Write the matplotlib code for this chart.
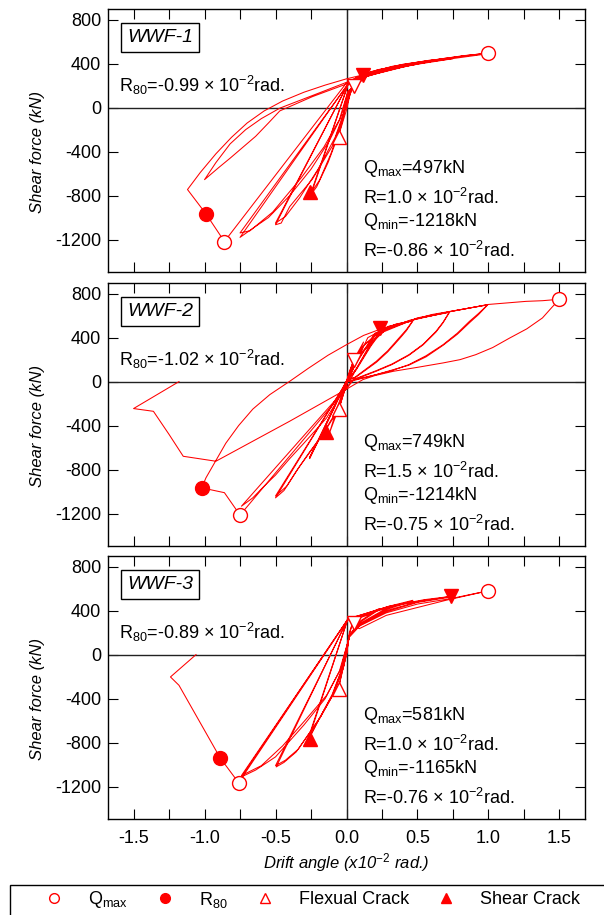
import matplotlib
matplotlib.use('Agg')
import matplotlib.pyplot as plt
from matplotlib.lines import Line2D
from matplotlib.patches import Rectangle
from matplotlib.ticker import MultipleLocator

plt.rcParams['font.family'] = ['Liberation Sans', 'DejaVu Sans']
plt.rcParams['mathtext.fontset'] = 'custom'
plt.rcParams['mathtext.rm'] = 'Liberation Sans'
plt.rcParams['mathtext.it'] = 'Liberation Sans:italic'
plt.rcParams['mathtext.bf'] = 'Liberation Sans:bold'
plt.rcParams['axes.unicode_minus'] = False

# hysteresis paths (drift angle x10^-2 rad, shear force kN)
wwf1_path = [
    (0.0, 0), (0.02, 110), (0.05, 190), (0.03, 160), (0.0, 60),
    (-0.03, -130), (-0.06, -265), (-0.04, -190), (0.0, -20),
    (0.03, 150), (0.08, 250), (0.115, 295), (0.09, 270), (0.04, 225), (0.01, 205),
    (-0.25, -790), (-0.21, -720), (-0.13, -500), (-0.06, -260), (-0.01, -20),
    (0.04, 180), (0.10, 270), (0.18, 310), (0.25, 335), (0.20, 320), (0.10, 285), (0.03, 235), (0.01, 210),
    (-0.25, -775), (-0.19, -660), (-0.11, -420), (-0.04, -160), (0.01, 120),
    (0.08, 250), (0.18, 305), (0.30, 350), (0.50, 400), (0.38, 385), (0.22, 340), (0.08, 280), (0.01, 215),
    (-0.50, -1065), (-0.46, -1050), (-0.40, -900), (-0.24, -650), (-0.10, -350), (-0.03, -110), (0.01, 130),
    (0.10, 265), (0.30, 345), (0.50, 395), (0.36, 375), (0.16, 320), (0.04, 250), (0.01, 212),
    (-0.50, -1050), (-0.43, -990), (-0.33, -820), (-0.20, -560), (-0.08, -270), (-0.02, -50), (0.02, 160),
    (0.14, 290), (0.45, 390), (0.75, 450), (0.58, 430), (0.32, 375), (0.12, 300), (0.01, 215),
    (-0.75, -1180), (-0.64, -1080), (-0.55, -1000), (-0.40, -800), (-0.25, -560), (-0.12, -300), (-0.04, -90), (0.01, 140),
    (0.14, 285), (0.45, 385), (0.75, 445), (0.52, 415), (0.22, 345), (0.06, 265), (0.01, 212),
    (-0.75, -1140), (-0.68, -1120), (-0.52, -950), (-0.32, -640), (-0.16, -360), (-0.05, -110), (0.01, 150),
    (0.15, 290), (0.47, 395), (0.82, 470), (1.0, 497), (0.94, 485), (0.70, 450), (0.40, 395), (0.18, 330), (0.04, 255), (0.0, 225),
    (-0.86, -1218), (-0.99, -966), (-1.12, -745), (-1.03, -590), (-0.92, -420), (-0.81, -270), (-0.70, -140),
    (-0.58, -30), (-0.45, 60), (-0.30, 140), (-0.15, 205), (0.0, 262),
    (0.14, 305), (0.47, 405), (0.82, 472), (1.0, 495), (0.94, 480), (0.60, 420), (0.30, 350), (0.12, 285), (0.0, 230),
    (-0.24, 110), (-0.47, -5), (-0.60, -100), (-0.71, -200), (-0.82, -330), (-0.92, -500), (-1.0, -655),
    (-0.90, -545), (-0.82, -460), (-0.72, -350), (-0.64, -261), (-0.55, -140), (-0.47, -30), (-0.24, 100), (0.0, 215),
]

wwf2_path = [
    (0.0, 0), (0.03, 120), (0.05, 191), (0.02, 90), (0.0, 0),
    (-0.03, -140), (-0.06, -270), (-0.03, -120), (0.0, 0),
    (0.06, 220), (0.12, 360), (0.08, 240), (0.02, 40),
    (-0.06, -260), (-0.12, -467), (-0.08, -300), (-0.02, -60), (0.02, 60),
    (0.10, 300), (0.244, 473), (0.17, 330), (0.07, 120), (0.0, 0),
    (-0.26, -700), (-0.20, -540), (-0.10, -270), (-0.02, -40), (0.03, 80),
    (0.12, 330), (0.25, 465), (0.17, 320), (0.07, 110), (0.0, 0),
    (-0.26, -690), (-0.19, -520), (-0.09, -250), (-0.01, -20), (0.04, 100),
    (0.15, 400), (0.30, 505), (0.467, 554), (0.42, 470), (0.37, 397), (0.29, 280), (0.21, 185), (0.06, 40), (0.01, 20),
    (-0.50, -1057), (-0.44, -990), (-0.354, -815), (-0.26, -640), (-0.167, -482), (-0.05, -239), (0.0, -20), (0.06, 150),
    (0.20, 430), (0.35, 525), (0.467, 550), (0.42, 460), (0.37, 385), (0.29, 270), (0.21, 175), (0.06, 35), (0.01, 15),
    (-0.50, -1040), (-0.42, -950), (-0.33, -770), (-0.24, -610), (-0.16, -460), (-0.05, -225), (0.0, -10), (0.06, 160),
    (0.20, 440), (0.45, 560), (0.725, 633), (0.68, 540), (0.63, 457), (0.54, 340), (0.44, 245), (0.32, 160), (0.21, 100), (0.05, 20),
    (-0.74, -1133), (-0.66, -1057), (-0.58, -950), (-0.50, -850), (-0.40, -700), (-0.30, -560), (-0.14, -330), (-0.04, -120), (0.02, 50), (0.10, 250),
    (0.25, 460), (0.50, 575), (0.725, 630), (0.68, 535), (0.63, 450), (0.54, 335), (0.44, 240), (0.32, 155), (0.21, 95), (0.05, 15),
    (-0.75, -1214), (-0.86, -1010), (-1.02, -966), (-0.99, -875), (-0.93, -740), (-0.85, -560), (-0.76, -400),
    (-0.66, -250), (-0.54, -118), (-0.40, 3), (-0.27, 120), (-0.13, 240), (0.0, 336), (0.12, 420),
    (0.244, 480), (0.467, 560), (0.725, 636), (0.995, 700), (0.93, 620), (0.866, 548), (0.78, 440), (0.68, 336),
    (0.56, 235), (0.44, 155), (0.32, 100), (0.21, 64), (0.0, 0),
    (0.10, 260), (0.30, 500), (0.60, 610), (0.995, 698), (0.93, 610), (0.87, 540), (0.78, 430), (0.68, 330),
    (0.56, 225), (0.44, 150), (0.20, 60), (0.02, 0),
    (0.20, 420), (0.50, 580), (1.0, 702), (1.265, 730), (1.38, 736), (1.5, 749),
    (1.45, 680), (1.38, 579), (1.27, 480), (1.15, 397), (1.03, 310), (0.91, 245), (0.80, 200), (0.68, 170),
    (0.50, 130), (0.33, 94), (0.20, 55), (0.115, 18),
    (-0.026, -88), (-0.40, -360), (-0.92, -724), (-1.15, -679), (-1.25, -480), (-1.36, -270), (-1.5, -245), (-1.18, 0),
]

wwf3_path = [
    (0.0, 0), (0.02, 200), (0.045, 297), (0.02, 180), (0.0, 0),
    (-0.03, -160), (-0.06, -324), (-0.03, -150), (0.0, 0),
    (0.02, 175), (0.09, 300), (0.23, 418), (0.15, 370), (0.05, 320), (0.01, 327),
    (-0.28, -800), (-0.20, -600), (-0.10, -370), (-0.03, -130), (0.02, 175),
    (0.09, 290), (0.23, 410), (0.15, 360), (0.05, 315), (0.01, 325),
    (-0.27, -780), (-0.19, -580), (-0.10, -360), (-0.03, -120), (0.02, 170),
    (0.09, 280), (0.28, 420), (0.467, 494), (0.30, 440), (0.10, 360), (0.01, 327),
    (-0.495, -1021), (-0.44, -980), (-0.354, -885), (-0.19, -582), (-0.096, -370), (-0.026, -127), (0.021, 175),
    (0.09, 270), (0.28, 410), (0.467, 488), (0.30, 430), (0.10, 350), (0.01, 322),
    (-0.50, -1010), (-0.43, -960), (-0.34, -860), (-0.18, -560), (-0.09, -350), (-0.02, -110), (0.02, 170),
    (0.10, 280), (0.28, 400), (0.50, 480), (0.737, 530), (0.55, 500), (0.30, 440), (0.10, 360), (0.01, 325),
    (-0.74, -1112), (-0.64, -1050), (-0.50, -930), (-0.30, -640), (-0.15, -400), (-0.05, -150), (0.02, 160),
    (0.10, 270), (0.28, 390), (0.50, 475), (0.737, 524), (0.55, 495), (0.30, 435), (0.10, 355), (0.01, 322),
    (-0.74, -1100), (-0.60, -1010), (-0.45, -830), (-0.28, -580), (-0.14, -370), (-0.04, -130), (0.02, 165),
    (0.09, 260), (0.28, 380), (0.50, 460), (0.737, 510), (1.0, 581), (0.70, 494), (0.28, 357), (0.09, 236), (0.01, 320),
    (-0.76, -1165), (-0.89, -939), (-1.18, -279), (-1.24, -203), (-1.06, 0),
]

specimens = ['WWF-1', 'WWF-2', 'WWF-3']
paths = [wwf1_path, wwf2_path, wwf3_path]

# characteristic points
qmax_pt = [(1.0, 497), (1.5, 749), (1.0, 581)]
qmin_pt = [(-0.86, -1218), (-0.75, -1214), (-0.76, -1165)]
r80_pt = [(-0.99, -966), (-1.02, -966), (-0.89, -939)]
flex_pos = [(0.056, 195), (0.056, 195), (0.05, 290)]
flex_neg = [(-0.056, -270), (-0.056, -245), (-0.056, -310)]
shear_pos = [(0.115, 295), (0.235, 485), (0.737, 532)]
shear_neg = [(-0.258, -765), (-0.143, -462), (-0.256, -764)]

# annotation values
r80_txt = ['-0.99', '-1.02', '-0.89']
qmax_txt = ['497', '749', '581']
rmax_txt = ['1.0', '1.5', '1.0']
qmin_txt = ['-1218', '-1214', '-1165']
rmin_txt = ['-0.86', '-0.75', '-0.76']

W, H = 604.0, 915.0
panels = [(9, 272), (283, 546), (556, 819)]

fig = plt.figure(figsize=(6.04, 9.15), dpi=100)

for i in range(3):
    top, bot = panels[i]
    ax = fig.add_axes([108 / W, 1 - bot / H, 477 / W, (bot - top) / H])
    xs = [p[0] for p in paths[i]]
    ys = [p[1] for p in paths[i]]
    ax.plot(xs, ys, color='red', lw=0.75, zorder=3)
    ax.axhline(0, color='#222222', lw=1.0, zorder=2)
    ax.axvline(0, color='#222222', lw=1.0, zorder=2)

    ms = 10
    ax.plot(*qmax_pt[i], 'o', ms=ms, mfc='white', mec='red', mew=1, zorder=5)
    ax.plot(*qmin_pt[i], 'o', ms=ms, mfc='white', mec='red', mew=1, zorder=5)
    ax.plot(*r80_pt[i], 'o', ms=ms, mfc='red', mec='red', mew=1, zorder=5)
    ax.plot(*flex_pos[i], 'v', ms=ms, mfc='white', mec='red', mew=1, zorder=5)
    ax.plot(*flex_neg[i], '^', ms=ms, mfc='white', mec='red', mew=1, zorder=5)
    ax.plot(*shear_pos[i], 'v', ms=ms, mfc='red', mec='red', mew=1, zorder=5)
    ax.plot(*shear_neg[i], '^', ms=ms, mfc='red', mec='red', mew=1, zorder=5)

    ax.set_xlim(-1.68, 1.68)
    ax.set_ylim(-1495, 897)
    ax.xaxis.set_major_locator(MultipleLocator(0.5))
    ax.xaxis.set_minor_locator(MultipleLocator(0.25))
    ax.yaxis.set_major_locator(MultipleLocator(400))
    ax.tick_params(which='both', direction='in', top=True, right=True,
                   length=7, width=0.8, labelsize=13)
    ax.tick_params(axis='x', pad=8)
    ax.tick_params(axis='y', pad=5)
    ax.xaxis.set_major_formatter(matplotlib.ticker.FormatStrFormatter('%.1f'))
    for s in ax.spines.values():
        s.set_linewidth(1.0)
    if i < 2:
        ax.tick_params(axis='x', labelbottom=False)
    else:
        ax.set_xlabel('Drift angle (x10$^{-2}$ rad.)', fontsize=12, style='italic', labelpad=3)

    ax.set_ylabel('Shear force (kN)', fontsize=12, style='italic')
    ax.yaxis.set_label_coords(-0.132, 0.455)

    ax.text(-1.545, 636, specimens[i], fontsize=14, style='italic', va='center', ha='left',
            bbox=dict(boxstyle='square,pad=0.3', fc='white', ec='black', lw=1), zorder=6)
    ax.text(-1.6, 139, 'R$_{80}$=' + r80_txt[i] + ' × 10$^{-2}$rad.', fontsize=13, va='baseline')
    ax.text(0.113, -594, 'Q$_\\mathrm{max}$=' + qmax_txt[i] + 'kN', fontsize=13, va='baseline')
    ax.text(0.113, -873, 'R=' + rmax_txt[i] + ' × 10$^{-2}$rad.', fontsize=13, va='baseline')
    ax.text(0.113, -1073, 'Q$_\\mathrm{min}$=' + qmin_txt[i] + 'kN', fontsize=13, va='baseline')
    ax.text(0.113, -1357, 'R=' + rmin_txt[i] + ' × 10$^{-2}$rad.', fontsize=13, va='baseline')

# legend along the bottom
handles = [
    Line2D([], [], ls='none', marker='o', ms=7, mfc='white', mec='red', mew=1),
    Line2D([], [], ls='none', marker='o', ms=7, mfc='red', mec='red', mew=1),
    Line2D([], [], ls='none', marker='^', ms=7, mfc='white', mec='red', mew=1),
    Line2D([], [], ls='none', marker='^', ms=7, mfc='red', mec='red', mew=1),
]
labels = ['Q$_\\mathrm{max}$', 'R$_{80}$', 'Flexual Crack', 'Shear Crack']
fig.legend(handles, labels, loc='center left', bbox_to_anchor=(27 / W, 1 - 900 / H),
           ncol=4, frameon=False, fontsize=13, handlelength=2.0, handletextpad=0.89,
           columnspacing=1.05, borderpad=0.5, borderaxespad=0)
fig.add_artist(Rectangle((10 / W, 1 - 940 / H), 600 / W, 55 / H, transform=fig.transFigure,
                         fill=False, ec='black', lw=1))

fig.savefig('out.png', dpi=100)
